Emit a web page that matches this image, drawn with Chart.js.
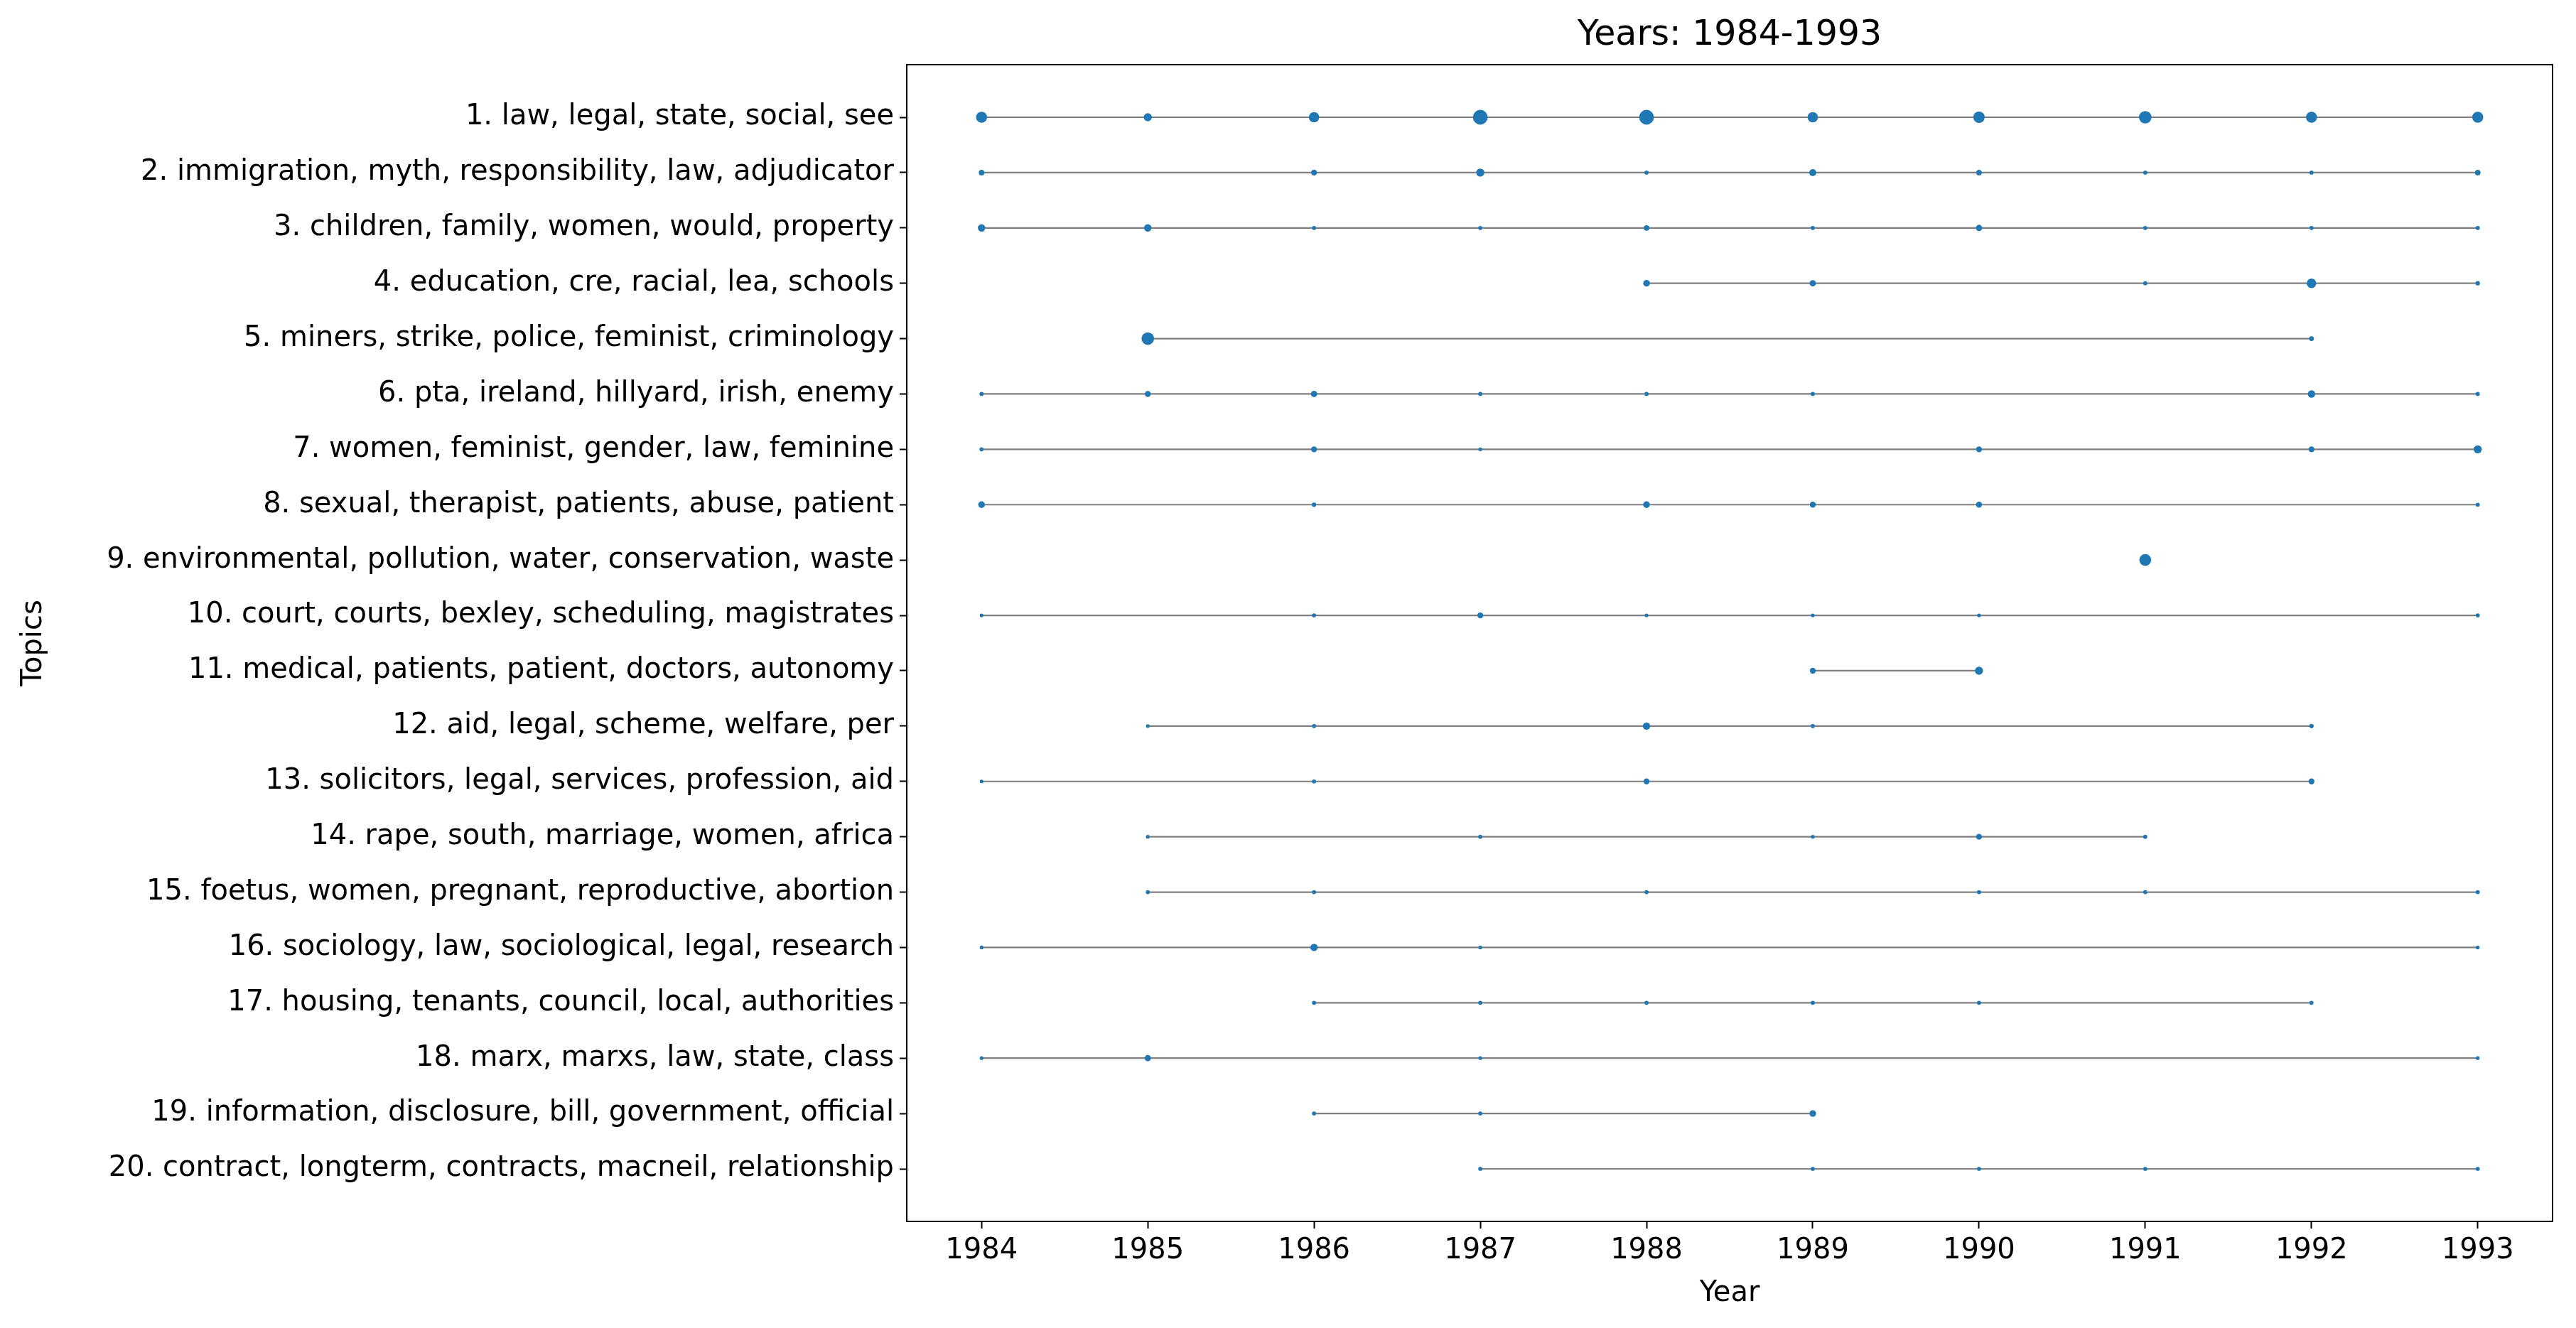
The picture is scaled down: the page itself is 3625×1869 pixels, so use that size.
<!DOCTYPE html>
<html>
<head>
<meta charset="utf-8">
<script src="https://cdn.jsdelivr.net/npm/chart.js@4"></script>
<style>
  body { margin: 0; background: #fff; }
  canvas { display: block; }
</style>
</head>
<body>
<canvas id="topicChart" width="3625" height="1869"></canvas>
<script>
// Topic labels, top to bottom
const topics = [
    '1. law, legal, state, social, see',
    '2. immigration, myth, responsibility, law, adjudicator',
    '3. children, family, women, would, property',
    '4. education, cre, racial, lea, schools',
    '5. miners, strike, police, feminist, criminology',
    '6. pta, ireland, hillyard, irish, enemy',
    '7. women, feminist, gender, law, feminine',
    '8. sexual, therapist, patients, abuse, patient',
    '9. environmental, pollution, water, conservation, waste',
    '10. court, courts, bexley, scheduling, magistrates',
    '11. medical, patients, patient, doctors, autonomy',
    '12. aid, legal, scheme, welfare, per',
    '13. solicitors, legal, services, profession, aid',
    '14. rape, south, marriage, women, africa',
    '15. foetus, women, pregnant, reproductive, abortion',
    '16. sociology, law, sociological, legal, research',
    '17. housing, tenants, council, local, authorities',
    '18. marx, marxs, law, state, class',
    '19. information, disclosure, bill, government, official',
    '20. contract, longterm, contracts, macneil, relationship'
];

const yearTicks = [1984, 1985, 1986, 1987, 1988, 1989, 1990, 1991, 1992, 1993];

// Years in which each topic appears
const topicYears = [
    [1984, 1985, 1986, 1987, 1988, 1989, 1990, 1991, 1992, 1993],
    [1984, 1986, 1987, 1988, 1989, 1990, 1991, 1992, 1993],
    [1984, 1985, 1986, 1987, 1988, 1989, 1990, 1991, 1992, 1993],
    [1988, 1989, 1991, 1992, 1993],
    [1985, 1992],
    [1984, 1985, 1986, 1987, 1988, 1989, 1992, 1993],
    [1984, 1986, 1987, 1990, 1992, 1993],
    [1984, 1986, 1988, 1989, 1990, 1993],
    [1991],
    [1984, 1986, 1987, 1988, 1989, 1990, 1993],
    [1989, 1990],
    [1985, 1986, 1988, 1989, 1992],
    [1984, 1986, 1988, 1992],
    [1985, 1987, 1989, 1990, 1991],
    [1985, 1986, 1988, 1990, 1991, 1993],
    [1984, 1986, 1987, 1993],
    [1986, 1987, 1988, 1989, 1990, 1992],
    [1984, 1985, 1987, 1993],
    [1986, 1987, 1989],
    [1987, 1989, 1990, 1991, 1993]
];

// Relative marker size (topic weight) for each of those years
const topicWeights = [
    [3.0, 2.2, 2.8, 4.0, 4.0, 2.8, 3.1, 3.4, 3.0, 3.0],
    [1.5, 1.6, 2.2, 1.1, 1.9, 1.5, 1.1, 1.1, 1.5],
    [2.0, 2.0, 1.1, 1.1, 1.5, 1.1, 1.7, 1.1, 1.1, 1.1],
    [1.8, 1.7, 1.1, 2.6, 1.2],
    [3.4, 1.3],
    [1.1, 1.6, 1.7, 1.1, 1.1, 1.1, 2.0, 1.1],
    [1.1, 1.6, 1.0, 1.6, 1.6, 2.2],
    [1.8, 1.2, 1.8, 1.6, 1.6, 1.1],
    [3.2],
    [1.0, 1.1, 1.6, 1.0, 1.0, 1.0, 1.1],
    [1.6, 2.2],
    [1.0, 1.1, 2.0, 1.1, 1.2],
    [1.0, 1.1, 1.6, 1.6],
    [1.0, 1.1, 1.0, 1.6, 1.1],
    [1.1, 1.1, 1.1, 1.1, 1.1, 1.1],
    [1.0, 2.0, 1.0, 1.0],
    [1.1, 1.1, 1.1, 1.1, 1.1, 1.1],
    [1.0, 1.7, 1.0, 1.0],
    [1.1, 1.1, 1.8],
    [1.1, 1.1, 1.1, 1.1, 1.1]
];

const FONT = "'DejaVu Sans', sans-serif";
const SCALE = 2.6;

Chart.defaults.font.family = FONT;
Chart.defaults.color = '#000';

const datasets = topics.map((name, i) => ({
    label: name,
    data: topicYears[i].map(y => ({ x: y, y: i + 1 })),
    showLine: true,
    borderColor: '#7f7f7f',
    borderWidth: 2.2,
    pointBackgroundColor: '#1f77b4',
    pointBorderColor: '#1f77b4',
    pointBorderWidth: 0,
    pointRadius: topicWeights[i].map(w => w * SCALE),
    pointHoverRadius: topicWeights[i].map(w => w * SCALE)
}));

// Box around the plot area and title centred over it
const frame = {
    id: 'frame',
    afterDraw(chart) {
        const { ctx, chartArea: a } = chart;
        ctx.save();
        ctx.strokeStyle = '#000';
        ctx.lineWidth = 2;
        ctx.strokeRect(a.left, a.top, a.right - a.left, a.bottom - a.top);
        ctx.fillStyle = '#000';
        ctx.font = "49px " + FONT;
        ctx.textAlign = 'center';
        ctx.textBaseline = 'bottom';
        ctx.fillText('Years: 1984-1993', (a.left + a.right) / 2, a.top - 16);
        ctx.restore();
    }
};

new Chart(document.getElementById('topicChart').getContext('2d'), {
    type: 'scatter',
    data: { datasets },
    options: {
        responsive: false,
        devicePixelRatio: 1,
        animation: false,
        layout: { padding: { left: 20, right: 33, top: 91, bottom: 20 } },
        plugins: {
            legend: { display: false },
            tooltip: { enabled: false }
        },
        scales: {
            x: {
                type: 'linear',
                min: 1983.55,
                max: 1993.45,
                afterBuildTicks: axis => { axis.ticks = yearTicks.map(v => ({ value: v })); },
                ticks: { font: { size: 40 }, padding: 8, callback: v => String(v) },
                grid: { drawOnChartArea: false, tickLength: 10, color: '#000', tickWidth: 2 },
                border: { display: false },
                title: { display: true, text: 'Year', font: { size: 40 }, padding: { top: 4 } }
            },
            y: {
                type: 'linear',
                reverse: true,
                min: 0.05,
                max: 20.95,
                afterBuildTicks: axis => { axis.ticks = topics.map((t, i) => ({ value: i + 1 })); },
                afterFit: axis => { axis.width = 1256; },
                ticks: { font: { size: 40 }, padding: 8, callback: v => topics[v - 1] },
                grid: { drawOnChartArea: false, tickLength: 10, color: '#000', tickWidth: 2 },
                border: { display: false },
                title: { display: true, text: 'Topics', font: { size: 40 }, padding: { bottom: 4 } }
            }
        }
    },
    plugins: [frame]
});
</script>
</body>
</html>
